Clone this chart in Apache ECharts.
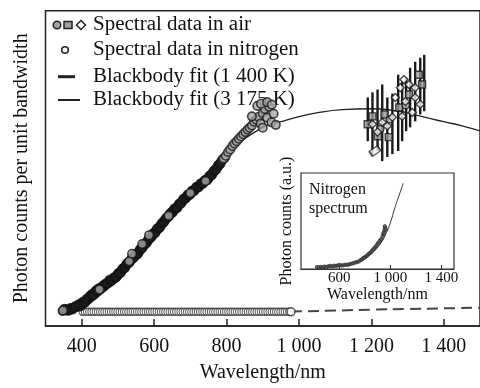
<!DOCTYPE html>
<html><head><meta charset="utf-8">
<script src="https://cdn.jsdelivr.net/npm/echarts/dist/echarts.min.js"></script>
<style>html,body{margin:0;padding:0;background:#fff}#c{width:480px;height:388px}</style>
</head><body><div id="c"></div>
<script>
// ---------- data ----------
const xTicks = [400, 600, 800, 1000, 1200, 1400];
const insetTicks = [600, 1000, 1400];

// Spectral data in air (main plot, dense band of circles)
const airData = [[348,4.8],[355,5.2],[362,4.9],[368,5.6],[374,5.3],[380,5.9],[386,6.1],[391,6.6],[396,6.3],[401,7.0],[406,7.4],[411,7.9],[416,8.3],[420,8.9],[425,9.2],[430,9.8],[435,10.3],[440,10.6],[445,11.2],[450,11.6],[456,12.3],[462,12.6],[468,13.4],[474,13.9],[480,14.2],[486,14.8],[492,15.3],[498,16.0],[504,16.8],[510,17.5],[516,18.3],[522,19.2],[528,20.0],[534,20.6],[540,21.5],[546,22.2],[552,22.7],[558,23.6],[564,24.5],[570,25.4],[576,26.2],[582,27.0],[588,27.9],[594,28.6],[600,29.4],[606,30.3],[612,31.0],[618,31.9],[624,32.8],[630,33.6],[636,34.5],[642,35.1],[648,35.9],[654,36.8],[660,37.3],[666,38.0],[672,38.9],[678,39.6],[684,40.4],[690,41.0],[696,41.6],[702,42.3],[708,42.9],[714,43.5],[720,44.2],[726,44.6],[732,45.2],[738,45.8],[744,46.3],[750,46.9],[756,47.8],[762,48.5],[768,49.4],[774,50.3],[780,51.2],[786,52.3],[352,5.4],[365,5.1],[377,5.7],[383,6.3],[393,6.9],[403,7.6],[409,7.5],[414,8.6],[422,9.4],[428,10.1],[433,9.9],[438,11.0],[443,11.5],[448,12.0],[453,11.9],[459,12.8],[465,13.3],[471,13.5],[477,14.6],[483,14.5],[489,15.4],[495,15.5],[501,16.7],[507,16.9],[513,18.2],[519,18.5],[525,19.8],[531,20.1],[537,21.2],[543,21.6],[549,22.8],[555,23.0],[561,24.3],[567,24.8],[573,26.0],[579,26.4],[585,27.6],[591,28.1],[597,29.3],[603,29.6],[609,30.9],[615,31.2],[621,32.5],[627,33.0],[633,34.2],[639,34.6],[645,35.8],[651,36.1],[657,37.3],[663,37.5],[669,38.7],[675,39.0],[681,40.3],[687,40.5],[693,41.6],[699,41.7],[705,42.9],[711,43.0],[717,44.1],[723,44.1],[729,45.2],[735,45.3],[741,46.3],[747,46.4],[753,47.6],[759,47.9],[765,49.2],[771,49.6],[777,51.0],[783,51.5]];
// Spectral data in air, lighter circles (upper part and a few in the band)
const airLight = [[348,4.9],[449,11.6],[531,20.5],[539,22.9],[567,26.0],[586,28.8],[640,35.0],[700,42.2],[742,46.0],[789,52.9],[795,53.3],[792,53.1],[798,54.0],[804,55.2],[810,56.0],[816,57.1],[822,57.9],[828,58.6],[834,59.4],[840,60.1],[846,60.8],[852,61.5],[858,62.3],[864,62.9],[870,63.6],[876,64.8],[882,65.4],[888,66.3],[894,64.2],[900,67.5],[906,68.8],[912,66.1],[918,69.5],[924,64.6],[930,67.3],[936,63.8],[870,66.5],[885,69.8],[895,70.5],[912,71.0],[925,70.2],[900,62.9]];

// Spectral data in air at long wavelengths: error bars and markers
const barX  = [1190,1203,1217,1230,1244,1258,1274,1285,1296,1307,1321,1335,1346];
const barLo = [58.6,54.5,55.5,52.3,53.6,54.5,55.5,58.6,61.8,63.0,64.9,67.1,68.1];
const barHi = [72.5,74.1,75.0,76.6,72.5,73.7,79.7,77.5,78.8,81.9,83.8,85.1,86.0];
const squareMarks  = [[1190,64.0],[1218,60.2],[1248,59.9],[1203,66.5],[1236,67.1],[1277,69.3],[1304,73.4],[1340,76.6],[1331,79.7]];
const circleMarks  = [[1250,65.5],[1295,70.0],[1225,62.5]];
const diamondMarks = [[1290,78.2],[1304,76.6],[1321,75.6],[1280,75.6],[1266,72.5],[1294,71.2],[1335,70.3],[1321,72.5],[1258,66.2],[1230,64.6],[1244,63.4],[1203,64.0],[1217,61.5],[1285,66.5],[1313,67.7]];
const tiltedMarks  = [[1210,55.5]];

// Spectral data in nitrogen (flat row of rings)
const nitrogenX = [400,406,412,418,424,430,436,442,448,454,460,466,472,478,484,490,496,502,508,514,520,526,532,538,544,550,556,562,568,574,580,586,592,598,604,610,616,622,628,634,640,646,652,658,664,670,676,682,688,694,700,706,712,718,724,730,736,742,748,754,760,766,772,778,784,790,796,802,808,814,820,826,832,838,844,850,856,862,868,874,880,886,892,898,904,910,916,922,928,934,940,946,952,958,964,970,976];
const nitrogenLevel = 4.5;
const nitrogenEnd = [978, 4.5];

// Blackbody fit (1 400 K), dashed
const fit1400 = [[978,4.6],[1100,4.9],[1200,5.2],[1300,5.4],[1400,5.6],[1500,5.8]];
// Blackbody fit (3 175 K), solid
const fit3175 = [[350,4.6],[400,6.5],[500,16],[600,29.5],[700,42],[800,54.5],[900,63],[950,64.8],[1000,66.4],[1060,67.8],[1120,68.6],[1200,68.9],[1270,68.2],[1335,66.6],[1400,64.8],[1450,63.5],[1500,61.9]];

// Inset: nitrogen spectrum
const insetData = [[425,2.0],[440,1.5],[455,2.2],[470,1.8],[485,2.5],[500,2.0],[515,2.8],[530,3.2],[545,2.6],[560,3.5],[575,3.0],[590,3.8],[605,4.2],[620,3.6],[635,4.0],[650,4.5],[665,4.2],[680,5.0],[695,5.4],[710,6.0],[725,6.8],[740,7.2],[755,8.0],[770,9.5],[780,10.2],[790,11.5],[800,12.0],[810,13.2],[820,14.0],[830,15.6],[840,16.5],[850,17.8],[860,19.5],[870,20.8],[880,22.5],[890,24.0],[900,26.2],[910,27.5],[920,29.8],[930,31.0],[940,34.0],[945,36.5],[950,38.0],[955,40.5],[960,43.0],[965,41.2],[958,44.5]];
const insetFit = [[450,2.0],[550,2.8],[645,4.2],[720,6.5],[776,9.4],[820,13],[855,16.3],[895,21.5],[933,28.4],[960,35],[985,42.4],[1010,52],[1037,64],[1070,77],[1102,89.3]];

const legendLabels = ['Spectral data in air','Spectral data in nitrogen','Blackbody fit (1 400 K)','Blackbody fit (3 175 K)'];

// ---------- chart ----------
const FONT = '"Liberation Serif", "DejaVu Serif", serif';
const fmt = v => v >= 1000 ? String(v).replace(/(\d)(\d{3})$/, '$1 $2') : String(v);
const chart = echarts.init(document.getElementById('c'), null, {renderer: 'canvas'});

const errData = barX.map((x, i) => [x, barLo[i], barHi[i]]);

const legendY = [25, 50, 76.7, 100];
const graphics = [
  {type:'circle', shape:{cx:57, cy:legendY[0], r:3.8}, style:{fill:'#a0a0a0', stroke:'#222', lineWidth:1.5}},
  {type:'rect', shape:{x:64, y:legendY[0]-3.5, width:8, height:7}, style:{fill:'#a0a0a0', stroke:'#222', lineWidth:1.5}},
  {type:'polygon', shape:{points:[[81,legendY[0]-4.5],[85.5,legendY[0]],[81,legendY[0]+4.5],[76.5,legendY[0]]]}, style:{fill:'#fff', stroke:'#222', lineWidth:1.5}},
  {type:'circle', shape:{cx:65, cy:legendY[1], r:3.3}, style:{fill:'#fff', stroke:'#222', lineWidth:1.6}},
  {type:'line', shape:{x1:58, y1:legendY[2], x2:75, y2:legendY[2]}, style:{stroke:'#222', lineWidth:3}},
  {type:'line', shape:{x1:58, y1:legendY[3], x2:80, y2:legendY[3]}, style:{stroke:'#222', lineWidth:2}},
  {type:'text', left:309, top:180, style:{text:'Nitrogen\nspectrum', font:'16px ' + FONT, fill:'#111', lineHeight:19}}
];
legendLabels.forEach((t, i) => graphics.push({
  type:'text', x:93, y:legendY[i], scaleX: 1.05, originX: 0, originY: 0,
  style:{text:t, font:'20px ' + FONT, fill:'#111', verticalAlign:'middle', align:'left'}
}));

const markStyle = {borderColor: '#1a1a1a', borderWidth: 1.4};

chart.setOption({
  animation: false,
  backgroundColor: '#fff',
  textStyle: {fontFamily: FONT},
  grid: [
    {left: 45.5, top: 10.7, right: -5, bottom: 60, show: true, borderColor: '#222', borderWidth: 1.5, backgroundColor: 'transparent'},
    {left: 301, top: 173, width: 153, height: 96, show: true, borderColor: '#333', borderWidth: 1.2, backgroundColor: '#fff'}
  ],
  xAxis: [
    {gridIndex: 0, type: 'value', min: 300, max: 1500,
     name: 'Wavelength/nm', nameLocation: 'middle', nameGap: 37,
     nameTextStyle: {fontSize: 20, color: '#111', fontFamily: FONT},
     axisLine: {show: true, lineStyle: {color: '#222', width: 1.5}},
     axisTick: {show: true, inside: true, length: 7, lineStyle: {color: '#222', width: 1.5}, customValues: xTicks},
     axisLabel: {show: true, fontSize: 20, color: '#111', fontFamily: FONT, margin: 11, formatter: fmt, customValues: xTicks},
     splitLine: {show: false}},
    {gridIndex: 1, type: 'value', min: 300, max: 1500,
     name: 'Wavelength/nm', nameLocation: 'middle', nameGap: 18,
     nameTextStyle: {fontSize: 16, color: '#111', fontFamily: FONT},
     axisLine: {show: true, lineStyle: {color: '#333', width: 1.2}},
     axisTick: {show: true, inside: true, length: 4, lineStyle: {color: '#333', width: 1.2}, customValues: insetTicks},
     axisLabel: {show: true, fontSize: 15, color: '#111', fontFamily: FONT, margin: 2, formatter: fmt, customValues: insetTicks},
     splitLine: {show: false}}
  ],
  yAxis: [
    {gridIndex: 0, type: 'value', min: 0, max: 100,
     name: 'Photon counts per unit bandwidth', nameLocation: 'middle', nameGap: 14,
     nameTextStyle: {fontSize: 20, color: '#111', fontFamily: FONT},
     axisLine: {show: false}, axisTick: {show: false}, axisLabel: {show: false}, splitLine: {show: false}},
    {gridIndex: 1, type: 'value', min: 0, max: 100,
     name: 'Photon counts (a.u.)', nameLocation: 'middle', nameGap: 6,
     nameTextStyle: {fontSize: 16, color: '#111', fontFamily: FONT},
     axisLine: {show: false}, axisTick: {show: false}, axisLabel: {show: false}, splitLine: {show: false}}
  ],
  series: [
    {name: legendLabels[3], type: 'line', xAxisIndex: 0, yAxisIndex: 0, data: fit3175, smooth: true,
     showSymbol: false, lineStyle: {color: '#222', width: 1.3}, z: 2},
    {name: legendLabels[2], type: 'line', xAxisIndex: 0, yAxisIndex: 0, data: fit1400, smooth: true,
     showSymbol: false, lineStyle: {color: '#444', width: 2, type: [11, 6]}, z: 2},
    {name: legendLabels[1], type: 'scatter', xAxisIndex: 0, yAxisIndex: 0,
     data: nitrogenX.map(x => [x, nitrogenLevel]),
     symbol: 'circle', symbolSize: [5, 7],
     itemStyle: {color: '#fff', borderColor: '#333', borderWidth: 1.2}, z: 3},
    {type: 'scatter', xAxisIndex: 0, yAxisIndex: 0, data: [nitrogenEnd],
     symbol: 'circle', symbolSize: 8,
     itemStyle: {color: '#fff', borderColor: '#333', borderWidth: 1.5}, z: 3},
    {name: legendLabels[0], type: 'scatter', xAxisIndex: 0, yAxisIndex: 0, data: airData,
     symbol: 'circle', symbolSize: 9,
     itemStyle: {color: '#1e1e1e', borderColor: '#111', borderWidth: 1.5}, z: 4},
    {type: 'scatter', xAxisIndex: 0, yAxisIndex: 0, data: airLight,
     symbol: 'circle', symbolSize: 8.5,
     itemStyle: {color: '#a6a6a6', borderColor: '#1a1a1a', borderWidth: 1.6}, z: 4},
    {type: 'custom', xAxisIndex: 0, yAxisIndex: 0, data: errData, z: 4,
     encode: {x: 0, y: [1, 2]},
     renderItem: (params, api) => {
       const p1 = api.coord([api.value(0), api.value(1)]);
       const p2 = api.coord([api.value(0), api.value(2)]);
       return {type: 'line', shape: {x1: p1[0], y1: p1[1], x2: p2[0], y2: p2[1]}, style: {stroke: '#1a1a1a', lineWidth: 2.4}};
     }},
    {type: 'scatter', xAxisIndex: 0, yAxisIndex: 0, data: squareMarks, z: 5, symbol: 'rect', symbolSize: 7,
     itemStyle: Object.assign({color: '#9a9a9a'}, markStyle)},
    {type: 'scatter', xAxisIndex: 0, yAxisIndex: 0, data: circleMarks, z: 5, symbol: 'circle', symbolSize: 7,
     itemStyle: Object.assign({color: '#b0b0b0'}, markStyle)},
    {type: 'scatter', xAxisIndex: 0, yAxisIndex: 0, data: diamondMarks, z: 6, symbol: 'diamond', symbolSize: 8,
     itemStyle: Object.assign({color: '#f6f6f6'}, markStyle)},
    {type: 'scatter', xAxisIndex: 0, yAxisIndex: 0, data: tiltedMarks, z: 6, symbol: 'rect', symbolSize: [10, 6], symbolRotate: 35,
     itemStyle: Object.assign({color: '#f6f6f6'}, markStyle)},
    {type: 'line', xAxisIndex: 1, yAxisIndex: 1, data: insetFit, smooth: true, showSymbol: false,
     lineStyle: {color: '#333', width: 1}, z: 6},
    {type: 'scatter', xAxisIndex: 1, yAxisIndex: 1, data: insetData, symbol: 'circle', symbolSize: 3.5,
     itemStyle: {color: '#555', borderColor: '#222', borderWidth: 0.8}, z: 7}
  ],
  graphic: graphics
});
</script>
</body></html>
